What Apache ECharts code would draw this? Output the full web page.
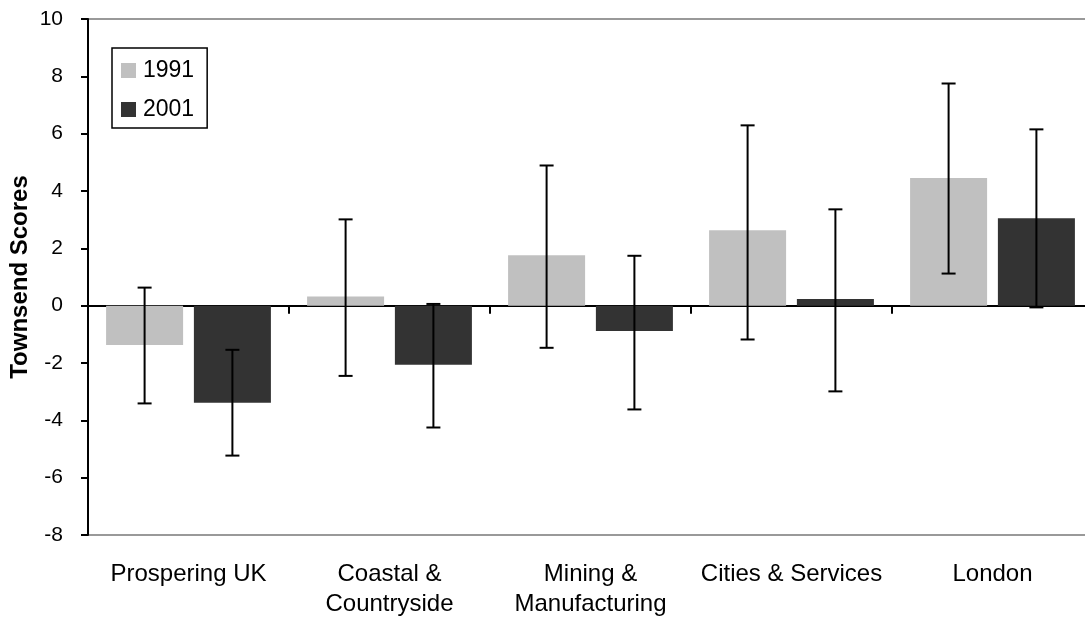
<!DOCTYPE html>
<html>
<head>
<meta charset="utf-8">
<script src="https://cdn.jsdelivr.net/npm/echarts@6/dist/echarts.min.js"></script>
<style>
  html, body { margin: 0; padding: 0; background: #fff; overflow: hidden; }
  /* the plot frame runs a few pixels past the right edge of the window */
  #chart { width: 1093px; height: 622px; }
</style>
</head>
<body>
<div id="chart"></div>
<script>
// Area types and Townsend deprivation scores (mean with error range)
var categories = ['Prospering UK', 'Coastal &\nCountryside', 'Mining &\nManufacturing', 'Cities & Services', 'London'];
var seriesNames = ['1991', '2001'];
var v1991 = [-1.37, 0.32, 1.76, 2.63, 4.45];
var v2001 = [-3.39, -2.06, -0.88, 0.23, 3.05];
var err1991Low = [-3.41, -2.45, -1.47, -1.18, 1.12];
var err1991High = [0.63, 3.01, 4.89, 6.29, 7.75];
var err2001Low = [-5.23, -4.25, -3.62, -2.99, -0.06];
var err2001High = [-1.54, 0.06, 1.74, 3.36, 6.15];
var yTicks = { min: -8, max: 10, interval: 2 };

var FONT = '"Liberation Sans", Arial, sans-serif';
var CAT_GAP = 0.18, BAR_GAP = 0.14;

function errorData(low, high) {
  return categories.map(function (c, i) { return [i, low[i], high[i]]; });
}

// Error bars sit on the bar centres, using the same layout rule as the bar series
function errorRenderer(seriesIndex) {
  return function (params, api) {
    var idx = api.value(0);
    var lo = api.coord([idx, api.value(1)]);
    var hi = api.coord([idx, api.value(2)]);
    var band = api.size([1, 0])[0];
    var usable = band * (1 - CAT_GAP);
    var bw = usable / (2 + BAR_GAP);
    var start = -usable / 2;
    var centre = seriesIndex === 0 ? start + bw / 2 : start + bw * 1.5 + bw * BAR_GAP;
    var x = lo[0] + centre;
    var cap = 7;
    var st = { stroke: '#000', lineWidth: 2 };
    return {
      type: 'group',
      children: [
        { type: 'line', shape: { x1: x, y1: lo[1], x2: x, y2: hi[1] }, style: st },
        { type: 'line', shape: { x1: x - cap, y1: lo[1], x2: x + cap, y2: lo[1] }, style: st },
        { type: 'line', shape: { x1: x - cap, y1: hi[1], x2: x + cap, y2: hi[1] }, style: st }
      ]
    };
  };
}

var chart = echarts.init(document.getElementById('chart'), null, { renderer: 'canvas' });
chart.setOption({
  animation: false,
  backgroundColor: '#fff',
  textStyle: { fontFamily: FONT },
  grid: {
    left: 88, top: 19, right: 0, bottom: 87,
    outerBoundsMode: 'none', containLabel: false,
    show: true, borderColor: '#999', borderWidth: 2, backgroundColor: 'transparent'
  },
  legend: {
    orient: 'vertical', left: 112, top: 48,
    data: seriesNames,
    icon: 'rect', itemWidth: 15, itemHeight: 15, itemGap: 16,
    padding: [11, 13, 7, 9],
    borderColor: '#000', borderWidth: 1.5,
    textStyle: { fontFamily: FONT, fontSize: 23, color: '#000', padding: [0, 0, 0, 2] }
  },
  xAxis: [
    {
      type: 'category', data: categories,
      axisLine: { onZero: true, lineStyle: { color: '#000', width: 2 } },
      axisTick: { show: true, alignWithLabel: false, length: 8, lineStyle: { color: '#000', width: 2 } },
      axisLabel: { show: false },
      splitLine: { show: false }
    },
    {
      type: 'category', data: categories, position: 'bottom',
      axisLine: { show: false }, axisTick: { show: false },
      axisLabel: { show: true, margin: 24, fontFamily: FONT, fontSize: 24, color: '#000', lineHeight: 30, interval: 0 },
      splitLine: { show: false }
    }
  ],
  yAxis: {
    type: 'value', min: yTicks.min, max: yTicks.max, interval: yTicks.interval,
    name: 'Townsend Scores', nameLocation: 'middle', nameGap: 56, nameRotate: 90,
    nameMoveOverlap: false,
    nameTextStyle: { fontFamily: FONT, fontSize: 24, fontWeight: 'bold', color: '#000' },
    axisLine: { show: true, onZero: false, lineStyle: { color: '#000', width: 2 } },
    axisTick: { show: true, length: 7, lineStyle: { color: '#000', width: 2 } },
    axisLabel: { margin: 25, fontFamily: FONT, fontSize: 21, color: '#000' },
    splitLine: { show: false }
  },
  series: [
    {
      name: '1991', type: 'bar', data: v1991, xAxisIndex: 0,
      barCategoryGap: (CAT_GAP * 100) + '%', barGap: (BAR_GAP * 100) + '%',
      itemStyle: { color: '#c0c0c0' }, z: 2
    },
    {
      name: '2001', type: 'bar', data: v2001, xAxisIndex: 0,
      barCategoryGap: (CAT_GAP * 100) + '%', barGap: (BAR_GAP * 100) + '%',
      itemStyle: { color: '#333333' }, z: 2
    },
    {
      name: 'err1991', type: 'custom', xAxisIndex: 0, data: errorData(err1991Low, err1991High),
      renderItem: errorRenderer(0), z: 5, silent: true
    },
    {
      name: 'err2001', type: 'custom', xAxisIndex: 0, data: errorData(err2001Low, err2001High),
      renderItem: errorRenderer(1), z: 5, silent: true
    }
  ]
});
</script>
</body>
</html>
